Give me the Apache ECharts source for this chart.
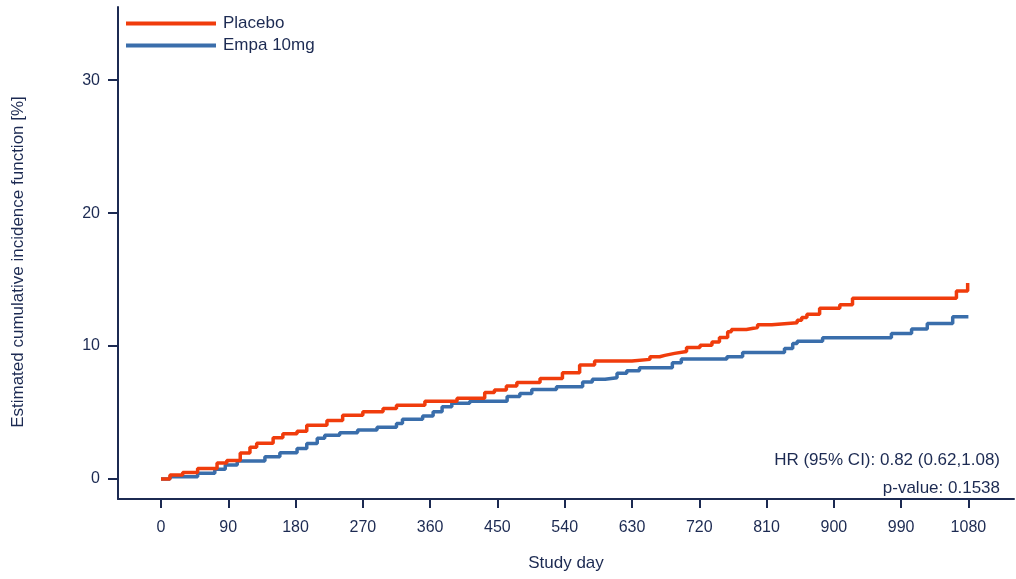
<!DOCTYPE html>
<html>
<head>
<meta charset="utf-8">
<script src="https://cdn.jsdelivr.net/npm/echarts@6/dist/echarts.min.js"></script>
<style>
html,body{margin:0;padding:0;background:#fff;}
#chart{width:1016px;height:579px;}
</style>
</head>
<body>
<div id="chart"></div>
<script>
// ---- data ----
const seriesNames = ['Placebo', 'Empa 10mg'];
const placeboDays = [0, 12, 29, 49, 75, 88, 106, 119, 128, 150, 163, 182, 195, 222, 243, 270, 297, 315, 353, 396, 433, 446, 462, 476, 507, 537, 560, 580, 630, 654, 667, 674, 687, 703, 721, 737, 747, 758, 763, 783, 798, 817, 851, 857, 864, 881, 908, 925, 1064, 1079];
const placeboCIF  = [0, 0.3, 0.5, 0.8, 1.2, 1.4, 1.95, 2.4, 2.7, 3.1, 3.4, 3.6, 4.05, 4.4, 4.8, 5.06, 5.3, 5.55, 5.86, 6.07, 6.5, 6.7, 7.0, 7.27, 7.57, 8.0, 8.57, 8.87, 9.0, 9.2, 9.3, 9.45, 9.6, 9.9, 10.07, 10.3, 10.65, 11.07, 11.25, 11.4, 11.6, 11.75, 11.95, 12.15, 12.4, 12.85, 13.1, 13.6, 14.15, 14.75];
const empaDays = [0, 12, 49, 72, 86, 102, 139, 159, 182, 195, 209, 219, 239, 263, 289, 315, 323, 350, 364, 376, 389, 413, 463, 480, 496, 529, 564, 577, 594, 610, 623, 640, 684, 696, 757, 778, 834, 845, 851, 885, 977, 1004, 1025, 1059, 1080];
const empaCIF  = [0, 0.17, 0.43, 0.73, 1.05, 1.35, 1.68, 1.98, 2.3, 2.68, 3.06, 3.3, 3.48, 3.68, 3.9, 4.18, 4.5, 4.74, 5.06, 5.44, 5.7, 5.86, 6.2, 6.44, 6.74, 6.94, 7.3, 7.5, 7.62, 7.95, 8.14, 8.37, 8.74, 9.02, 9.2, 9.52, 9.82, 10.2, 10.37, 10.62, 10.95, 11.28, 11.7, 12.2, 12.2];
const xTicks = [0, 90, 180, 270, 360, 450, 540, 630, 720, 810, 900, 990, 1080];
const yTicks = [0, 10, 20, 30];
const hrText = 'HR (95% CI): 0.82 (0.62,1.08)';
const pText = 'p-value: 0.1538';
const xName = 'Study day';
const yName = 'Estimated cumulative incidence function [%]';

// ---- style ----
const navy = '#1c2a52';
const font = '"Liberation Sans", Arial, sans-serif';
const colors = ['#f03c0c', '#3a6eab'];

const zip = (a, b) => a.map((d, i) => [d, b[i]]);

const chart = echarts.init(document.getElementById('chart'), null, {renderer: 'canvas'});
chart.setOption({
  animation: false,
  backgroundColor: '#fff',
  color: colors,
  grid: {left: 118, right: 2, top: 7, bottom: 80, containLabel: false},
  legend: {
    orient: 'vertical',
    left: 121, top: 10,
    itemWidth: 90, itemHeight: 4, itemGap: 5,
    icon: 'rect',
    textStyle: {color: navy, fontSize: 17, fontFamily: font, padding: [0, 0, 0, 2]},
    data: seriesNames
  },
  xAxis: {
    type: 'value',
    min: -57.5, max: 1141,
    name: xName,
    nameLocation: 'middle',
    nameGap: 56,
    nameTextStyle: {color: navy, fontSize: 17, fontFamily: font},
    axisLine: {show: true, onZero: false, lineStyle: {color: navy, width: 2}},
    axisTick: {show: true, customValues: xTicks, length: 9, lineStyle: {color: navy, width: 2}},
    axisLabel: {customValues: xTicks, formatter: v => String(v), color: navy, fontSize: 16, fontFamily: font, margin: 21},
    splitLine: {show: false}
  },
  yAxis: {
    type: 'value',
    min: -1.5, max: 35.5,
    axisLine: {show: true, onZero: false, lineStyle: {color: navy, width: 2}},
    axisTick: {show: true, customValues: yTicks, length: 10, lineStyle: {color: navy, width: 2}},
    axisLabel: {customValues: yTicks, formatter: v => String(v), color: navy, fontSize: 16, fontFamily: font, margin: 18},
    splitLine: {show: false}
  },
  graphic: [
    {type: 'text', rotation: Math.PI / 2, position: [18, 262],
     style: {text: yName, fill: navy, font: '17px ' + font, textAlign: 'center', textVerticalAlign: 'middle'}},
    {type: 'text', right: 16, top: 452, style: {text: hrText, fill: navy, font: '17px ' + font}},
    {type: 'text', right: 16, top: 480, style: {text: pText, fill: navy, font: '17px ' + font}}
  ],
  series: [
    {name: seriesNames[0], type: 'line', step: 'end', showSymbol: false, symbol: 'none',
     lineStyle: {width: 3.5, color: colors[0]}, data: zip(placeboDays, placeboCIF), z: 3},
    {name: seriesNames[1], type: 'line', step: 'end', showSymbol: false, symbol: 'none',
     lineStyle: {width: 3.5, color: colors[1]}, data: zip(empaDays, empaCIF), z: 2}
  ]
});
</script>
</body>
</html>
